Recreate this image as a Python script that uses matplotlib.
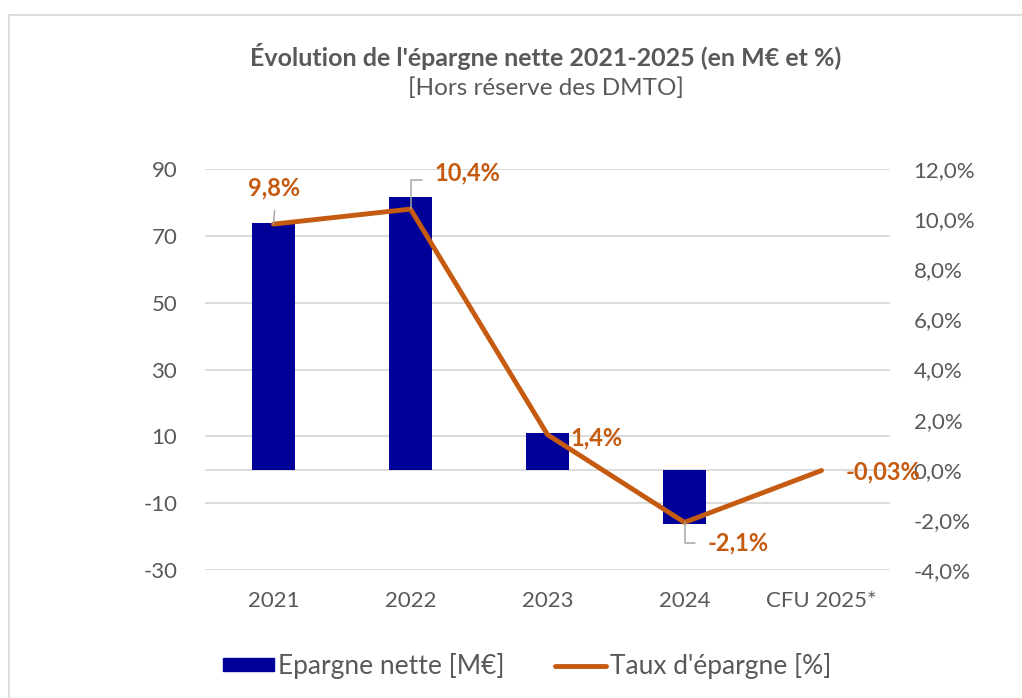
from matplotlib import pyplot as plt
from matplotlib.lines import Line2D
from matplotlib.patches import Patch
import numpy as np

# données
annees = ["2021", "2022", "2023", "2024", "CFU 2025*"]
epargne_nette = [73.7, 81.7, 11.1, -16.3, -0.2]          # M€
taux_epargne = [9.8, 10.4, 1.4, -2.1, -0.03]             # %
labels_taux = ["9,8%", "10,4%", "1,4%", "-2,1%", "-0,03%"]

bleu = "#000099"
orange = "#C55A11"
gris = "#595959"

plt.rcParams['font.family'] = ['Lato', 'DejaVu Sans']
plt.rcParams['axes.unicode_minus'] = False

fig = plt.figure(figsize=(10.22, 6.98), dpi=100)
ax = fig.add_axes([205/1022, 1-570/698, 685/1022, 401/698])
ax2 = ax.twinx()

x = np.arange(len(annees))
ax.bar(x, epargne_nette, width=0.32, color=bleu, zorder=2)
ax2.plot(x, taux_epargne, color=orange, lw=3.5, solid_capstyle='round', zorder=3)

ax.set_xlim(-0.5, 4.5)
ax.set_ylim(-30, 90)
ax.set_yticks(range(-30, 91, 20))
ax2.set_ylim(-4, 12)
ax2.set_yticks(range(-4, 13, 2))
ax2.set_yticklabels(["{:.1f}%".format(v).replace(".", ",") for v in range(-4, 13, 2)])
ax.set_xticks(x, annees)

ax.grid(axis='y', color='#d9d9d9', lw=1.3, zorder=0)
ax.axhline(0, color='#d9d9d9', lw=1.3, zorder=1)
for a in (ax, ax2):
    for s in a.spines.values():
        s.set_visible(False)
    a.tick_params(length=0, labelsize=16, colors=gris)
ax.tick_params(axis='y', pad=20)
ax2.tick_params(axis='y', pad=17)
ax.tick_params(axis='x', pad=15)

# étiquettes du taux
lab = dict(color=orange, fontsize=17, fontweight='bold', va='center')
leader = dict(arrowstyle='-', color='#a6a6a6', lw=1.1, shrinkB=0)
ax2.annotate(labels_taux[0], xy=(0, taux_epargne[0]), xytext=(0.7, 26), textcoords='offset points',
             ha='center', arrowprops=dict(leader, relpos=(0.52, 0), shrinkA=6), **lab)
ax2.annotate(labels_taux[1], xy=(1, taux_epargne[1]), xytext=(17.3, 26), textcoords='offset points',
             ha='left', arrowprops=dict(leader, relpos=(0, 0.18), shrinkA=7,
                                        connectionstyle='angle,angleA=0,angleB=90,rad=0'), **lab)
ax2.annotate(labels_taux[2], xy=(2, taux_epargne[2]), xytext=(16.5, -2), textcoords='offset points',
             ha='left', **lab)
ax2.annotate(labels_taux[3], xy=(3, taux_epargne[3]), xytext=(16.5, -15), textcoords='offset points',
             ha='left', arrowprops=dict(leader, relpos=(0, 0.5), shrinkA=7,
                                        connectionstyle='angle,angleA=0,angleB=90,rad=0'), **lab)
ax2.annotate(labels_taux[4], xy=(4, taux_epargne[4]), xytext=(17.3, -1), textcoords='offset points',
             ha='left', **lab)

# titre
fig.text(546/1022, 1-57/698, "Évolution de l'épargne nette 2021-2025 (en M€ et %)",
         ha='center', va='center', fontsize=18, fontweight='bold', color=gris)
fig.text(546/1022, 1-88/698, "[Hors réserve des DMTO]",
         ha='center', va='center', fontsize=17.5, color=gris)

# légende
handles = [Patch(color=bleu), Line2D([0], [0], color=orange, lw=3.5, solid_capstyle='round')]
fig.legend(handles, ["Epargne nette [M€]", "Taux d'épargne [%]"], loc='center',
           bbox_to_anchor=(527/1022, 1-666/698), ncol=2, frameon=False, fontsize=19,
           labelcolor=gris, handlelength=1.93, handleheight=0.38, handletextpad=0.15,
           columnspacing=1.9)

# cadre
fig.add_artist(Line2D([9/1022, 1], [1-15/698, 1-15/698], color='#d9d9d9', lw=1.3))
fig.add_artist(Line2D([9/1022, 9/1022], [0, 1-15/698], color='#d9d9d9', lw=1.3))

plt.savefig("out.png", dpi=100, facecolor='white')
